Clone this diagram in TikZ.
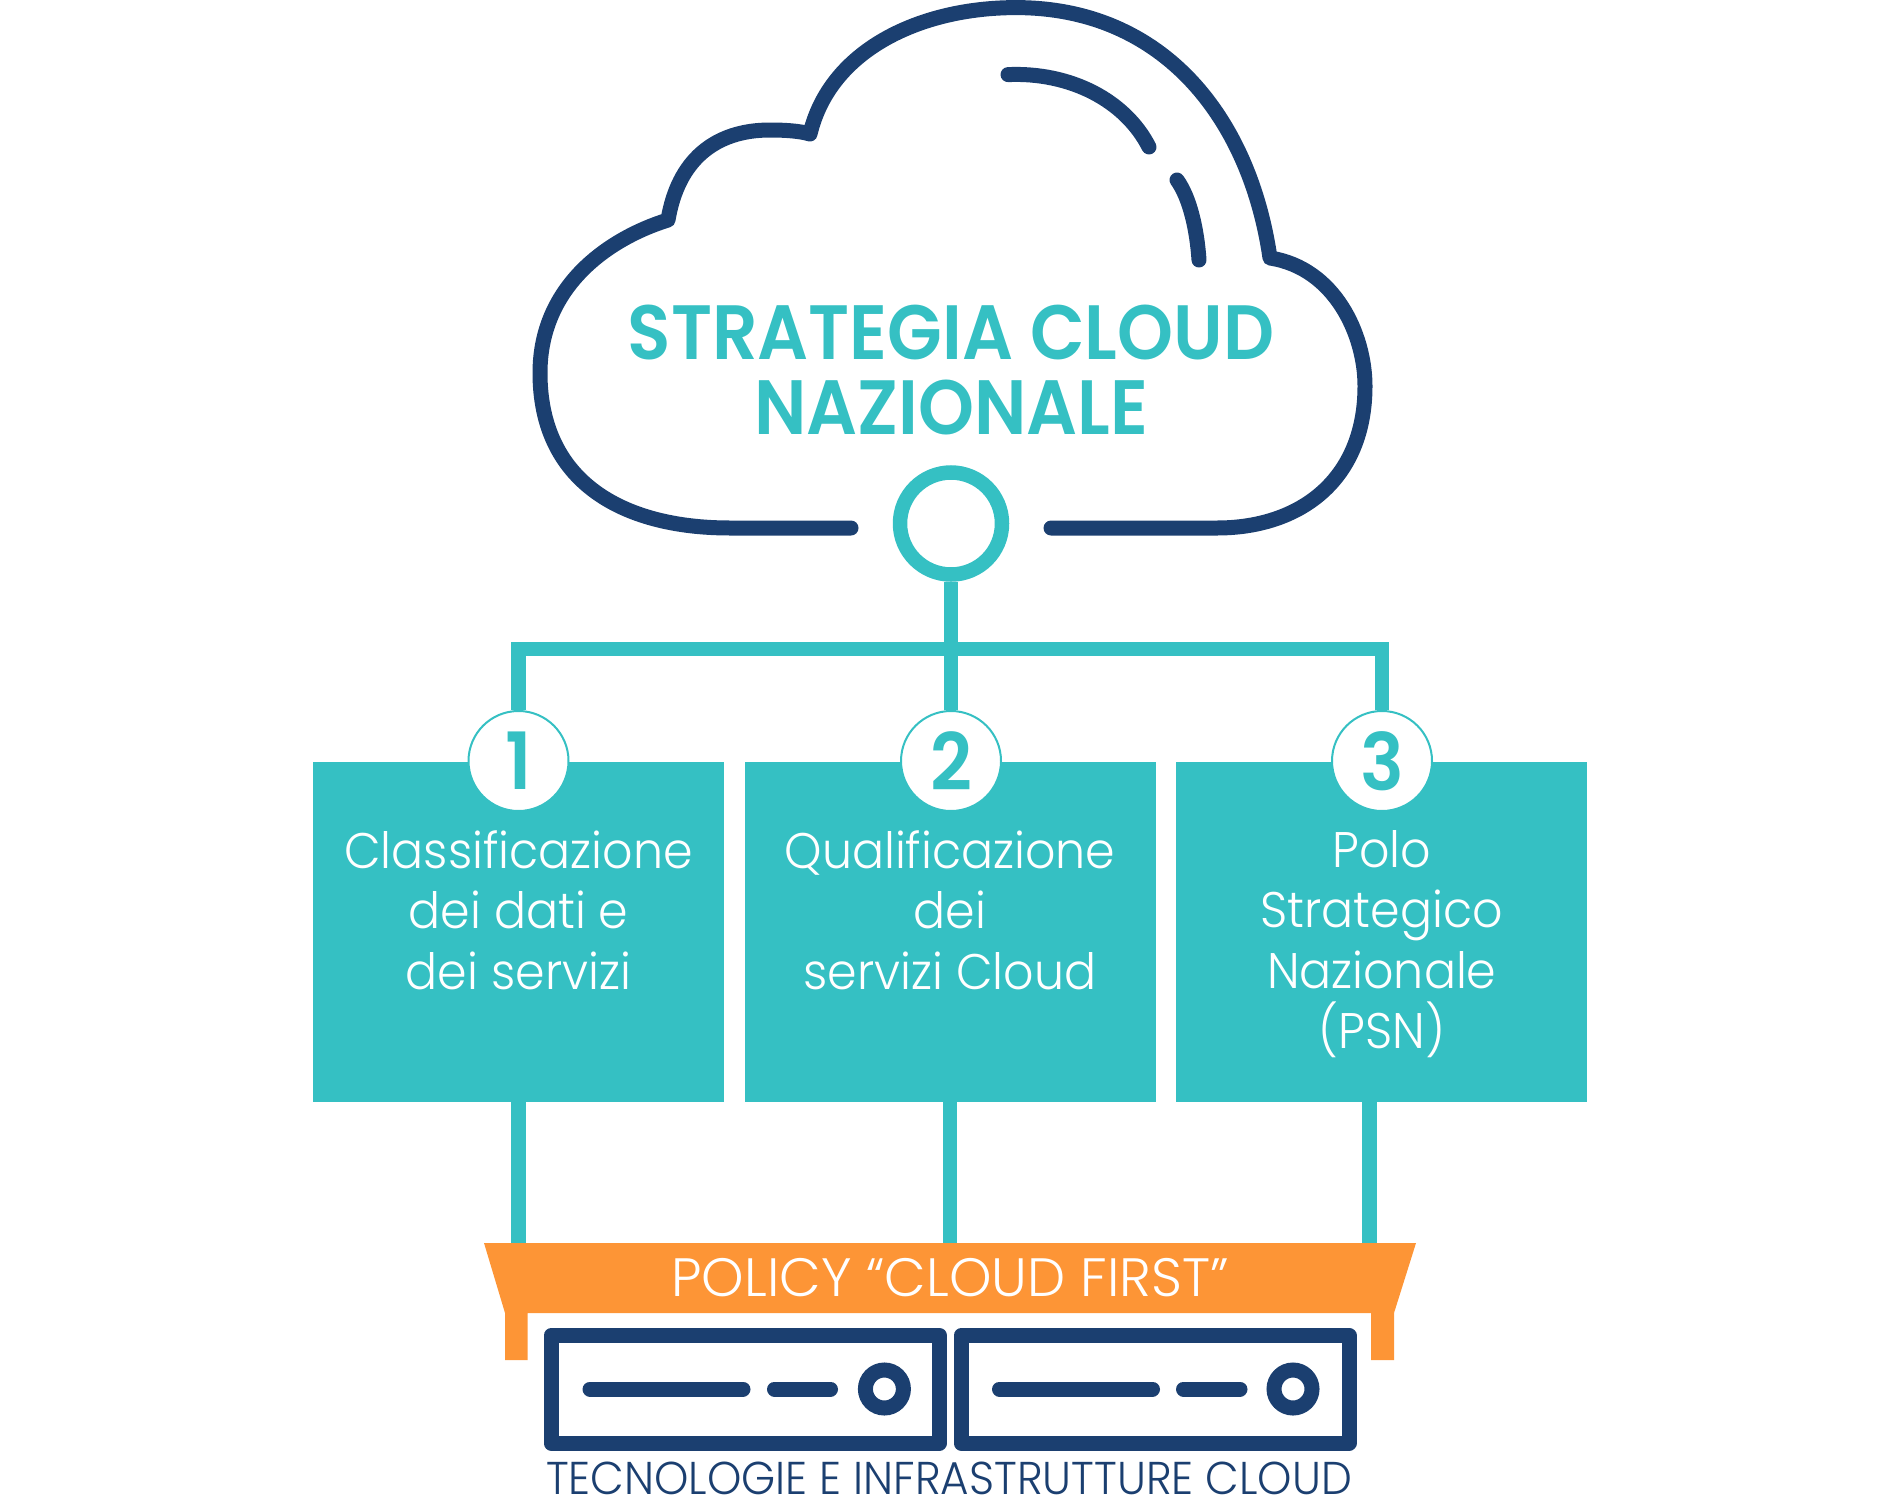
\documentclass[tikz,border=0pt]{standalone}
\usepackage{fontspec}
\usepackage{tikz}
\setmainfont{Poppins}[UprightFont=* Light,FakeStretch=0.95]
\newfontfamily\headfont{Poppins}[UprightFont=* SemiBold,FakeStretch=0.925]
\newfontfamily\bandfont{Poppins}[UprightFont=* Light]
\definecolor{teal1}{HTML}{35C0C3}
\definecolor{navy1}{HTML}{1B3F70}
\definecolor{orange1}{HTML}{FD9536}

\begin{document}
\begin{tikzpicture}[
        x=1pt,
        y=-1pt,
        outline/.style={draw=navy1, line width=15pt, line cap=round, line join=round},
        link/.style={draw=teal1, line width=14.5pt},
        hubnode/.style={circle, draw=teal1, line width=14.5pt, fill=white, minimum size=102pt, inner sep=0pt},
        badge/.style={circle, draw=teal1, line width=2pt, fill=white, minimum size=100pt, inner sep=0pt,
            text=teal1, font=\fontsize{79}{79}\selectfont\headfont},
        box/.style={rectangle, fill=teal1, minimum width=411pt, minimum height=340pt, inner sep=0pt},
        boxtext/.style={anchor=north, align=center, text=white, inner sep=0pt,
            font=\fontsize{50}{60.5}\selectfont},
        server/.style={draw=navy1, line width=15pt, line join=round},
        slot/.style={draw=navy1, line width=15pt, line cap=round},
        led/.style={circle, draw=navy1, line width=15pt, minimum size=38pt, inner sep=0pt}
    ]
        \useasboundingbox (0,0) rectangle (1900,1496);

        % cloud
        \draw[outline] (851,528) -- (730,528)
            .. controls (620,528) and (540,480) .. (540,373)
            .. controls (540,285) and (610,238) .. (668,220)
            .. controls (678,160) and (715,130) .. (770,130)
            .. controls (785,130) and (800,131) .. (810,134)
            .. controls (830,50) and (920,7.6) .. (1016,7.6)
            .. controls (1165,7.6) and (1250,120) .. (1270,258)
            .. controls (1335,268) and (1365,335) .. (1365,386)
            .. controls (1365,480) and (1300,528) .. (1217,528)
            -- (1051,528);
        \draw[outline] (1008,74.6) .. controls (1070,72) and (1125,100) .. (1149,147);
        \draw[outline] (1177,180) .. controls (1190,198) and (1197,230) .. (1199,260);

        % nodes
        \node (title) [text=teal1, align=center, inner sep=0pt,
            font=\fontsize{77}{75}\selectfont\headfont] at (951,370) {STRATEGIA CLOUD\\NAZIONALE};
        \node (hub) [hubnode] at (951,523.5) {};
        \coordinate (bus) at (951,649);

        \node (box1) [box] at (518.5,931.5) {};
        \node (box2) [box] at (950,931.5) {};
        \node (box3) [box] at (1381.75,931.5) {};
        \node (badge1) [badge] at (518.5,761) {1};
        \node (badge2) [badge] at (951,761) {2};
        \node (badge3) [badge] at (1382,761) {3};
        \node (text1) [boxtext] at (518.5,830) {Classificazione\\dei dati e\\dei servizi};
        \node (text2) [boxtext] at (950,830) {Qualificazione\\dei\\servizi Cloud};
        \node (text3) [boxtext] at (1381.75,830) {Polo\\Strategico\\Nazionale\\(PSN)};

        % policy band
        \fill[orange1] (484,1243) -- (1416,1243) -- (1394,1313) -- (1394,1360) -- (1371,1360)
            -- (1371,1313) -- (527.5,1313) -- (527.5,1360) -- (505,1360) -- (505,1313) -- cycle;
        \coordinate (bandtop) at (950,1243);
        \node (policy) [text=white, inner sep=0pt,
            font=\fontsize{54}{54}\selectfont\bandfont] at (950,1278) {POLICY “CLOUD FIRST”};

        % servers
        \draw[server] (551,1335.5) rectangle (939.5,1443);
        \draw[server] (961,1335.5) rectangle (1349,1443);
        \coordinate (long1a) at (590,1389);
        \coordinate (long1b) at (743,1389);
        \coordinate (short1a) at (774.5,1389);
        \coordinate (short1b) at (830.5,1389);
        \coordinate (long2a) at (999.5,1389);
        \coordinate (long2b) at (1152.5,1389);
        \coordinate (short2a) at (1183.5,1389);
        \coordinate (short2b) at (1240,1389);
        \draw[slot] (long1a) -- (long1b);
        \draw[slot] (short1a) -- (short1b);
        \draw[slot] (long2a) -- (long2b);
        \draw[slot] (short2a) -- (short2b);
        \node (led1) [led] at (884.4,1389) {};
        \node (led2) [led] at (1293,1389) {};
        \node (infra) [text=navy1, inner sep=0pt, anchor=base,
            font=\fontsize{46}{46}\selectfont] at (949,1494.5) {TECNOLOGIE E INFRASTRUTTURE CLOUD};

        % links
        \draw[link] (hub) -- (badge2);
        \draw[link] (badge1) |- (bus) -| (badge3);
        \draw[link] (box1.south) -- (box1.south |- bandtop);
        \draw[link] (box2.south) -- (box2.south |- bandtop);
        \draw[link] ([xshift=-12.25pt]box3.south) -- ([xshift=-12.25pt]box3.south |- bandtop);
    \end{tikzpicture}
\end{document}
